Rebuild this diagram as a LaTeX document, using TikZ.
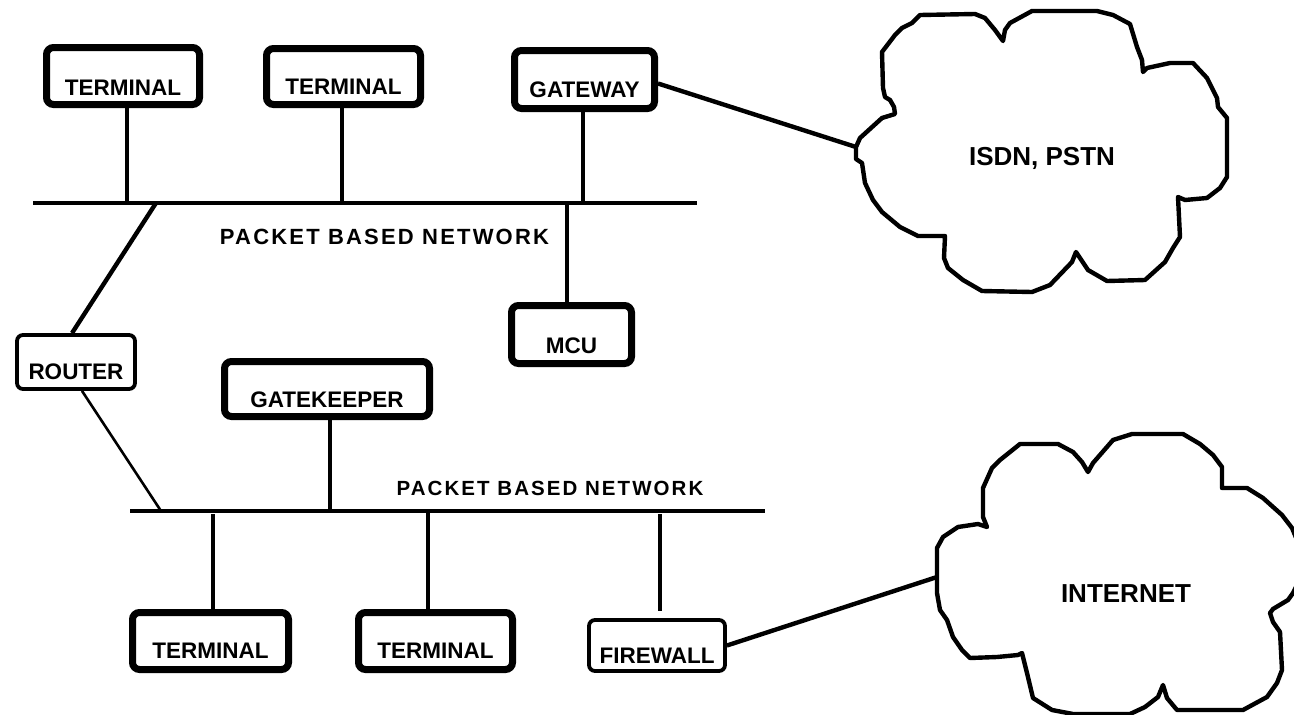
\documentclass[tikz,border=0pt]{standalone}
\usepackage{fontspec}
\setmainfont{Liberation Sans}
\newcommand\devfont{\fontsize{22.5}{26}\selectfont\bfseries}
\newcommand\netfont{\fontsize{20.5}{24}\selectfont\bfseries\addfontfeature{LetterSpace=10}}
\newcommand\netfontbig{\fontsize{22}{25}\selectfont\bfseries\addfontfeature{LetterSpace=10}}
\newcommand\cloudfont{\fontsize{26}{30}\selectfont\bfseries}
\begin{document}
\begin{tikzpicture}[x=1pt,y=-1pt,
  dev/.style={draw, line width=7pt, rounded corners=7pt, inner sep=0pt,
              font=\devfont, fill=white},
  thin dev/.style={dev, line width=3.8pt, rounded corners=6pt},
  wire/.style={line width=4.4pt},
  thin wire/.style={line width=2.6pt},
  cloud line/.style={line width=4.4pt, line join=round}]
\fill[white] (0,0) rectangle (1294,715);
\useasboundingbox (0,0) rectangle (1294,715);

% ---- devices ----
\node[dev, minimum width=153pt, text height=47.5pt, text depth=9.5pt]  (t1)  at (123,76)     {TERMINAL};
\node[dev, minimum width=154pt, text height=45.5pt, text depth=10.5pt] (t2)  at (343.5,76.5) {TERMINAL};
\node[dev, minimum width=140pt, text height=46.5pt, text depth=11.5pt] (gw)  at (584.5,79.5) {GATEWAY};
\node[dev, minimum width=120pt, text height=47.5pt, text depth=10.5pt] (mcu) at (571.5,334.5) {MCU};
\node[dev, minimum width=205pt, text height=45.5pt, text depth=9.5pt]  (gk)  at (327,389)    {GATEKEEPER};
\node[dev, minimum width=156pt, text height=45.5pt, text depth=11.5pt] (t3)  at (210.5,641)  {TERMINAL};
\node[dev, minimum width=154pt, text height=45.5pt, text depth=11.5pt] (t4)  at (435.5,641)  {TERMINAL};
\node[thin dev, minimum width=118pt, text height=44pt, text depth=10pt] (router) at (76,362) {ROUTER};
\node[thin dev, minimum width=136pt, text height=43pt, text depth=8pt]  (fw)  at (657,645.5)  {FIREWALL};

% ---- upper packet network ----
\coordinate (busAw) at (33,203);
\coordinate (busAe) at (697,203);
\draw[wire] (busAw) -- (busAe);
\coordinate (tapT1) at (127,203);
\coordinate (tapT2) at (342,203);
\coordinate (tapGW) at (583,203);
\coordinate (tapMCU) at (567,205);
\coordinate (tapRA) at (156,203);
\draw[wire] (t1.south -| tapT1) -- (tapT1);
\draw[wire] (t2.south -| tapT2) -- (tapT2);
\draw[wire] (gw.south -| tapGW) -- (tapGW);
\draw[wire] (tapMCU) -- (mcu.north -| tapMCU);
\node[font=\netfontbig, anchor=base] (netA) at (384.5,244) {PACKET BASED NETWORK};

% ---- lower packet network ----
\coordinate (busBw) at (130,511);
\coordinate (busBe) at (765,511);
\draw[wire] (busBw) -- (busBe);
\coordinate (tapRB) at (161,511);
\coordinate (tapGK) at (330,511);
\coordinate (tapT3) at (213,514);
\coordinate (tapT4) at (428,511);
\coordinate (tapFW) at (660,514);
\draw[wire] (gk.south -| tapGK) -- (tapGK);
\draw[wire] (tapT3) -- (t3.north -| tapT3);
\draw[wire] (tapT4) -- (t4.north -| tapT4);
\draw[wire, shorten >=7pt] (tapFW) -- (fw.north -| tapFW);
\node[font=\netfont, anchor=base] (netB) at (550,495) {PACKET BASED NETWORK};

% ---- router between the two networks ----
\draw[wire] (tapRA) -- ([xshift=-4pt]router.north);
\draw[thin wire] ([xshift=6pt]router.south) -- (tapRB);

% ---- ISDN / PSTN cloud ----
\coordinate (isdnj) at (856,147);
\draw[cloud line] (856,147) -- (860,138) -- (882,118) -- (895,114) -- (894,107) -- (890,100)
  -- (885,97) -- (883,88) -- (882,52) -- (895,35) -- (902,28) -- (912,23) -- (920,15)
  -- (975,14) -- (985,18) -- (995,30) -- (1003,41) -- (1005,30) -- (1010,23) -- (1032,11)
  -- (1097,11) -- (1113,15) -- (1130,24) -- (1137,47) -- (1142,60) -- (1143,72) -- (1147,68)
  -- (1170,63) -- (1193,63) -- (1207,78) -- (1217,98) -- (1218,107) -- (1227,118)
  -- (1227,177) -- (1220,188) -- (1207,198) -- (1185,200) -- (1178,197) -- (1180,237)
  -- (1173,248) -- (1165,262) -- (1145,280) -- (1107,281) -- (1088,270) -- (1080,258)
  -- (1076,252) -- (1072,262) -- (1050,285) -- (1032,292) -- (982,291) -- (963,280)
  -- (948,268) -- (944,258) -- (945,236) -- (918,236) -- (900,227) -- (882,212)
  -- (873,200) -- (865,183) -- (862,163) -- (856,159) -- cycle;
\node[font=\cloudfont, anchor=base] (isdn) at (1042,165) {ISDN, PSTN};
\draw[wire] ([yshift=-4pt]gw.east) -- (isdnj);

% ---- Internet cloud ----
\coordinate (inetj) at (937,577);
\draw[cloud line] (937,577) -- (937,548) -- (943,537) -- (958,527) -- (978,524) -- (987,527)
  -- (983,517) -- (983,488) -- (992,468) -- (1000,460) -- (1020,444) -- (1058,444)
  -- (1073,452) -- (1082,462) -- (1088,472) -- (1093,463) -- (1113,440) -- (1132,434)
  -- (1183,434) -- (1200,444) -- (1213,455) -- (1222,467) -- (1222,488) -- (1247,488)
  -- (1263,498) -- (1282,515) -- (1292,528) -- (1297,540) -- (1297,585) -- (1293,593)
  -- (1288,600) -- (1273,609) -- (1270,613) -- (1273,622) -- (1280,632) -- (1282,670)
  -- (1277,683) -- (1267,697) -- (1243,710) -- (1177,710) -- (1167,698) -- (1163,685)
  -- (1158,697) -- (1145,707) -- (1130,714) -- (1073,714) -- (1052,710) -- (1033,698)
  -- (1027,673) -- (1022,653) -- (1018,655) -- (997,657) -- (970,658) -- (962,650)
  -- (953,637) -- (947,620) -- (940,610) -- (937,593) -- cycle;
\node[font=\cloudfont, anchor=base] (inet) at (1126,602) {INTERNET};
\draw[wire] (fw.east) -- (inetj);
\end{tikzpicture}
\end{document}
